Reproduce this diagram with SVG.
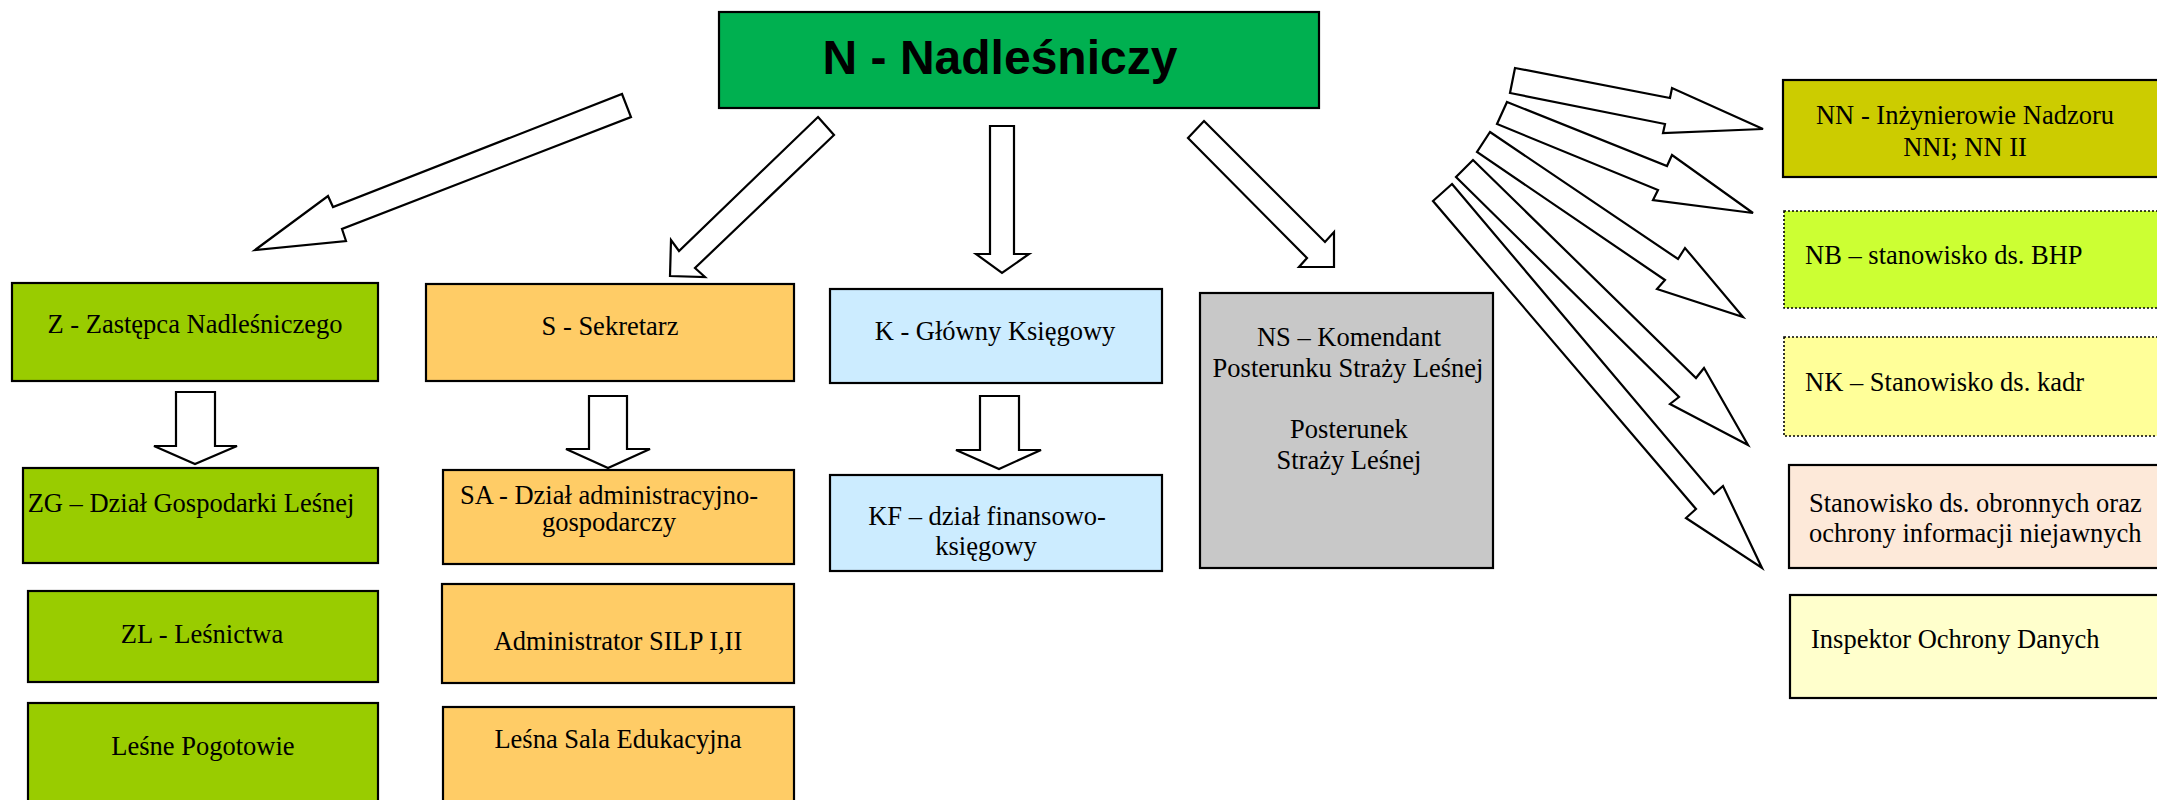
<svg xmlns="http://www.w3.org/2000/svg" width="2157" height="800" viewBox="0 0 2157 800">
<style>
.box{stroke:#000;stroke-width:2.2}
.dot{stroke:#000;stroke-width:1.6;stroke-dasharray:2 2}
.t{font-family:"Liberation Serif","Times New Roman",serif;font-size:26.5px;fill:#000}
.c{text-anchor:middle}
.arr{fill:#fff;stroke:#000;stroke-width:2.2;stroke-linejoin:miter}
</style>
<rect width="2157" height="800" fill="#fff"/>

<g id="connectors">
  <polygon class="arr" points="622,94 631,117 342,229 346,241 255,250 328,196 333,207"/>
  <polygon class="arr" points="818,117 834,135 695,268 705,277 670,276 671,240 679,251"/>
  <polygon class="arr" points="990,126 1014,126 1014,254 1029,254 1002,273 976,254 990,254"/>
  <polygon class="arr" points="1204,121 1325,242 1334,232 1334,267 1299,267 1307,258 1188,138"/>
  <polygon class="arr" points="176,392 215,392 215,446 237,446 195,464 154,446 176,446"/>
  <polygon class="arr" points="589,396 627,396 627,449 650,449 608,468 566,449 589,449"/>
  <polygon class="arr" points="980,396 1019,396 1019,450 1041,450 999,469 956,450 980,450"/>
  <polygon class="arr" points="1515,68 1670,98 1672,88 1763,129 1663,133 1665,124 1510,93"/>
  <polygon class="arr" points="1507,102 1667,166 1672,155 1753,213 1653,200 1658,190 1497,124"/>
  <polygon class="arr" points="1490,132 1678,259 1685,248 1743,317 1657,289 1665,280 1477,152"/>
  <polygon class="arr" points="1473,160 1696,378 1704,368 1748,445 1670,404 1679,397 1456,177"/>
  <polygon class="arr" points="1452,184 1714,494 1723,486 1762,568 1686,518 1696,509 1433,201"/>
</g>

<g id="N">
  <rect class="box" x="719" y="12" width="600" height="96" fill="#00B050"/>
  <text x="1000" y="74" text-anchor="middle" font-family="'Liberation Sans',Arial,sans-serif" font-weight="bold" font-size="48">N - Nadleśniczy</text>
</g>

<g id="Z">
  <rect class="box" x="12" y="283" width="366" height="98" fill="#99CC00"/>
  <text class="t c" x="195" y="333">Z - Zastępca Nadleśniczego</text>
</g>
<g id="ZG">
  <rect class="box" x="23" y="468" width="355" height="95" fill="#99CC00"/>
  <text class="t c" x="191" y="512">ZG – Dział Gospodarki Leśnej</text>
</g>
<g id="ZL">
  <rect class="box" x="28" y="591" width="350" height="91" fill="#99CC00"/>
  <text class="t c" x="202" y="643">ZL - Leśnictwa</text>
</g>
<g id="LP">
  <rect class="box" x="28" y="703" width="350" height="110" fill="#99CC00"/>
  <text class="t c" x="203" y="755">Leśne Pogotowie</text>
</g>

<g id="S">
  <rect class="box" x="426" y="284" width="368" height="97" fill="#FFCC66"/>
  <text class="t c" x="610" y="335">S - Sekretarz</text>
</g>
<g id="SA">
  <rect class="box" x="443" y="470" width="351" height="94" fill="#FFCC66"/>
  <text class="t c" x="609" y="504">SA - Dział administracyjno-</text>
  <text class="t c" x="609" y="531">gospodarczy</text>
</g>
<g id="SILP">
  <rect class="box" x="442" y="584" width="352" height="99" fill="#FFCC66"/>
  <text class="t c" x="618" y="650">Administrator SILP I,II</text>
</g>
<g id="LSE">
  <rect class="box" x="443" y="707" width="351" height="106" fill="#FFCC66"/>
  <text class="t c" x="618" y="748">Leśna Sala Edukacyjna</text>
</g>

<g id="K">
  <rect class="box" x="830" y="289" width="332" height="94" fill="#CCECFF"/>
  <text class="t c" x="995" y="340">K - Główny Księgowy</text>
</g>
<g id="KF">
  <rect class="box" x="830" y="475" width="332" height="96" fill="#CCECFF"/>
  <text class="t c" x="987" y="525">KF – dział finansowo-</text>
  <text class="t c" x="986" y="555">księgowy</text>
</g>

<g id="NS">
  <rect class="box" x="1200" y="293" width="293" height="275" fill="#C8C8C8"/>
  <text class="t c" x="1349" y="346">NS – Komendant</text>
  <text class="t c" x="1348" y="377">Posterunku Straży Leśnej</text>
  <text class="t c" x="1349" y="438">Posterunek</text>
  <text class="t c" x="1349" y="469">Straży Leśnej</text>
</g>

<g id="NN">
  <rect class="box" x="1783" y="80" width="390" height="97" fill="#CCCC00"/>
  <text class="t c" x="1965" y="124">NN - Inżynierowie Nadzoru</text>
  <text class="t c" x="1965" y="156">NNI; NN II</text>
</g>
<g id="NB">
  <rect class="dot" x="1784" y="211" width="390" height="97" fill="#CCFF33"/>
  <text class="t" x="1805" y="264">NB – stanowisko ds. BHP</text>
</g>
<g id="NK">
  <rect class="dot" x="1784" y="337" width="390" height="99" fill="#FFFF99"/>
  <text class="t" x="1805" y="391">NK – Stanowisko ds. kadr</text>
</g>
<g id="OB">
  <rect class="box" x="1789" y="465" width="390" height="103" fill="#FDE9D9"/>
  <text class="t" x="1809" y="512">Stanowisko ds. obronnych oraz</text>
  <text class="t" x="1809" y="542">ochrony informacji niejawnych</text>
</g>
<g id="IOD">
  <rect class="box" x="1790" y="595" width="390" height="103" fill="#FFFFCC"/>
  <text class="t" x="1811" y="648">Inspektor Ochrony Danych</text>
</g>
</svg>
